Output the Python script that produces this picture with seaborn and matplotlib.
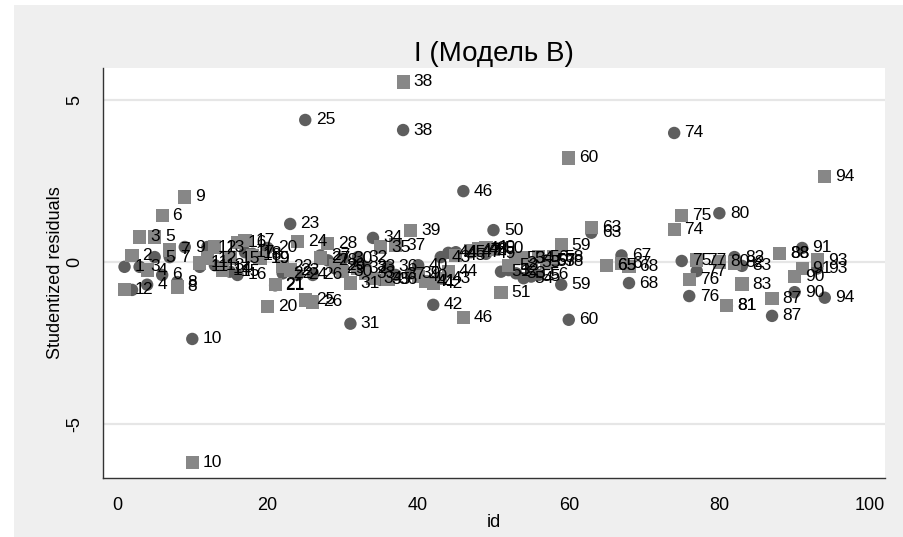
import matplotlib
matplotlib.use("Agg")
import matplotlib.pyplot as plt
import seaborn as sns
import pandas as pd
from matplotlib.patches import Rectangle

sns.set_style("white")
plt.rcParams["font.family"] = ["Liberation Sans", "DejaVu Sans"]
plt.rcParams["axes.unicode_minus"] = False
plt.rcParams["text.color"] = "black"
plt.rcParams["axes.labelcolor"] = "black"
plt.rcParams["xtick.color"] = "black"
plt.rcParams["ytick.color"] = "black"

# Observation ids
ids = list(range(1, 61)) + [63, 65, 67, 68, 74, 75, 76, 77, 80, 81, 82, 83,
                            87, 88, 90, 91, 93, 94]

# Studentized residuals, first specification (circles)
resid_circle = [
    -0.15, -0.86, -0.15, -0.70, 0.15, -0.40, 0.15, -0.62, 0.46, -2.37,
    -0.15, 0.46, -0.10, -0.20, -0.30, -0.40, 0.30, 0.25, 0.10, 0.43,
    -0.72, -0.35, 1.17, -0.40, 4.37, -0.40, 0.20, 0.05, -0.20, 0.10,
    -1.90, 0.15, -0.15, 0.74, -0.55, -0.15, -0.40, 4.06, -0.35, -0.10,
    -0.60, -1.32, 0.15, 0.28, 0.30, 2.18, 0.30, 0.35, 0.25, 0.98,
    -0.30, -0.25, -0.35, -0.50, -0.45, -0.40, 0.05, 0.00, -0.70, -1.78,
    0.90, -0.10, 0.20, -0.65, 3.97, 0.03, -1.05, -0.28, 1.50, -1.35,
    0.15, -0.12, -1.66, 0.27, -0.93, 0.43, -0.20, -1.10,
]

# Studentized residuals, second specification (squares)
resid_square = [
    -0.86, 0.20, 0.77, -0.25, 0.77, 1.42, 0.37, -0.77, 2.00, -6.18,
    -0.03, 0.12, 0.46, -0.25, 0.12, 0.60, 0.66, 0.20, 0.12, -1.38,
    -0.70, -0.15, -0.25, 0.62, -1.17, -1.23, 0.12, 0.58, -0.10, -0.30,
    -0.65, -0.20, -0.35, -0.50, 0.46, -0.55, 0.52, 5.54, 0.98, -0.45,
    -0.60, -0.65, -0.50, -0.30, 0.20, -1.72, 0.35, 0.40, 0.45, 0.40,
    -0.95, -0.10, 0.10, 0.12, -0.03, 0.15, 0.00, 0.15, 0.52, 3.20,
    1.05, -0.10, -0.06, -0.15, 1.00, 1.42, -0.55, 0.06, 0.00, -1.35,
    -0.03, -0.68, -1.13, 0.27, -0.45, -0.19, 0.06, 2.62,
]

x_ticks = [0, 20, 40, 60, 80, 100]
y_ticks = [-5, 0, 5]

df = pd.DataFrame({"id": ids, "circle": resid_circle, "square": resid_square})

W, H = 904, 537
fig = plt.figure(figsize=(W / 100, H / 100), dpi=100)
fig.patch.set_facecolor("#efefef")
# white strip along the left and top edges
fig.add_artist(Rectangle((0, 0), 14 / W, 1, transform=fig.transFigure,
                         facecolor="white", edgecolor="none", zorder=-1))
fig.add_artist(Rectangle((0, 1 - 5 / H), 1, 5 / H, transform=fig.transFigure,
                         facecolor="white", edgecolor="none", zorder=-1))

ax = fig.add_axes([103 / W, 1 - 478 / H, (885 - 103) / W, (478 - 68) / H])
ax.set_facecolor("white")

for yv in y_ticks:
    ax.axhline(yv, color="#e6e6e6", lw=1.6, zorder=0)

sns.scatterplot(data=df, x="id", y="circle", marker="o", s=80,
                color="#5e5e5e", edgecolor="none", ax=ax, zorder=2)
sns.scatterplot(data=df, x="id", y="square", marker="s", s=90,
                color="#878787", edgecolor="none", ax=ax, zorder=3)

for i, c, s in zip(ids, resid_circle, resid_square):
    ax.annotate(str(i), (i, c), xytext=(7.5, 0), textcoords="offset points",
                ha="left", va="center", fontsize=12.5, color="black", zorder=4)
    ax.annotate(str(i), (i, s), xytext=(7.5, 0), textcoords="offset points",
                ha="left", va="center", fontsize=12.5, color="black", zorder=4)

ax.set_xlim(-1.86, 102.0)
ax.set_ylim(-6.65, 5.97)
ax.set_xticks(x_ticks)
ax.set_yticks(y_ticks)
ax.set_yticklabels([str(v) for v in y_ticks], rotation=90, va="center")
ax.tick_params(axis="both", direction="out", length=8, width=1,
               color="#333333", labelsize=13, pad=6)

for side in ["top", "right"]:
    ax.spines[side].set_visible(False)
for side in ["left", "bottom"]:
    ax.spines[side].set_color("#333333")
    ax.spines[side].set_linewidth(1.0)

ax.set_xlabel("id", fontsize=13, labelpad=0)
ax.set_ylabel("Studentized residuals", fontsize=13, labelpad=2)
ax.set_title("I (Модель B)", fontsize=20, pad=5, color="black")

fig.savefig("out.png", dpi=100, facecolor=fig.get_facecolor())
